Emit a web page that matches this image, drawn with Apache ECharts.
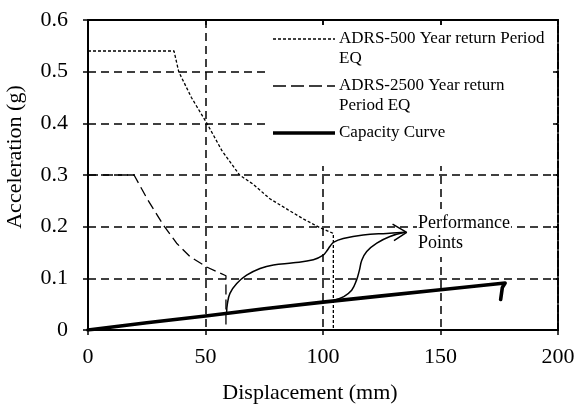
<!DOCTYPE html>
<html><head><meta charset="utf-8">
<script src="https://cdn.jsdelivr.net/npm/echarts@6/dist/echarts.min.js"></script>
<style>html,body{margin:0;padding:0;background:#fff}#c{width:576px;height:405px}</style>
</head><body><div id="c"></div>
<script>
// ---- data (x: displacement mm, y: acceleration g) ----
const xTickValues = [0, 50, 100, 150, 200];
const yTickValues = [0, 0.1, 0.2, 0.3, 0.4, 0.5, 0.6];
const xTitle = 'Displacement (mm)';
const yTitle = 'Acceleration (g)';
const seriesNames = ['ADRS-500 Year return Period EQ', 'ADRS-2500 Year return Period EQ', 'Capacity Curve'];
const legendLines = [['ADRS-500 Year return Period', 'EQ'], ['ADRS-2500 Year return', 'Period EQ'], ['Capacity Curve']];
const annotationText = ['Performance', 'Points'];

const adrs500 = [[0, 0.54], [36.6, 0.54], [38.6, 0.5], [44, 0.45], [50.6, 0.4], [57, 0.347], [64.5, 0.3],
  [70, 0.283], [77.4, 0.254], [85, 0.233], [92, 0.214], [98.7, 0.198], [104.4, 0.187], [104.4, 0]];
const adrs2500 = [[0, 0.3], [19.6, 0.3], [25.3, 0.253], [32.1, 0.203], [37.7, 0.168], [43.4, 0.142],
  [50.5, 0.122], [54.8, 0.113], [58.7, 0.105], [58.7, 0]];
const capacity = [[0, 0], [25, 0.014], [50, 0.027], [75, 0.041], [100, 0.054], [125, 0.066], [150, 0.078],
  [177.5, 0.091], [176.3, 0.082], [175.6, 0.059]];
const perfPath1 = [[59, 0.035], [59.3, 0.05], [60.4, 0.071], [63.3, 0.09], [67.5, 0.106], [73.2, 0.119], [78.9, 0.126],
  [87.4, 0.13], [95.9, 0.136], [100.1, 0.145], [101.6, 0.153], [103, 0.162], [104.6, 0.17], [108.6, 0.177],
  [117.1, 0.184], [127.1, 0.187], [134.9, 0.189]];
const perfPath2 = [[105.1, 0.058], [108.6, 0.064], [112.2, 0.077], [114.3, 0.097], [115.5, 0.116], [116.5, 0.135],
  [118.6, 0.152], [122.9, 0.168], [128.5, 0.181], [134.9, 0.189]];
const arrowHead = [[129.6, 0.205], [135.6, 0.189], [130.2, 0.173]];

// ---- styles ----
const FONT = '"Liberation Serif", "Times New Roman", serif';
const style500 = { color: '#000', width: 1.3, type: [3, 2] };
const style2500 = { color: '#000', width: 1.3, type: [10, 5] };
const styleCap = { color: '#000', width: 3.6, type: 'solid', cap: 'round', join: 'round' };
const stylePerf = { color: '#000', width: 1.5, type: 'solid' };
const gridDash = { color: '#000', width: 1.5, type: [8, 5] };

const chart = echarts.init(document.getElementById('c'), null, { renderer: 'canvas' });
const fmtY = v => (v === 0 ? '0' : v.toFixed(1));

function line(name, data, ls, smooth) {
  return { name, type: 'line', data, showSymbol: false, symbol: 'none', smooth: smooth || false,
    lineStyle: ls, itemStyle: { color: '#000' }, animation: false, z: 3, xAxisIndex: 0, yAxisIndex: 0 };
}

// legend built from text/lines
const legendX = 273, legendW = 62, textX = 339;
const legendRows = [39, 86, 133];
const legendStyles = [
  { lineWidth: 1.3, lineDash: [3, 2] },
  { lineWidth: 1.3, lineDash: [13, 5] },
  { lineWidth: 3.6, lineDash: null }
];
const graphics = [{ type: 'rect', shape: { x: 265, y: 25, width: 291, height: 141 }, style: { fill: '#fff' }, z: 10 }];
legendLines.forEach((lines, i) => {
  graphics.push({ type: 'line', z: 11, shape: { x1: legendX, y1: legendRows[i], x2: legendX + legendW, y2: legendRows[i] },
    style: { stroke: '#000', lineWidth: legendStyles[i].lineWidth, lineDash: legendStyles[i].lineDash } });
  lines.forEach((t, j) => {
    graphics.push({ type: 'text', z: 11, x: textX, y: legendRows[i] + j * 20,
      style: { text: t, fontFamily: FONT, fontSize: 17, fill: '#000', align: 'left', verticalAlign: 'middle' } });
  });
});
graphics.push({ type: 'text', z: 11, x: 417, y: 233,
  style: { text: annotationText.join('\n'), fontFamily: FONT, fontSize: 18, lineHeight: 20, fill: '#000',
    align: 'left', verticalAlign: 'middle', backgroundColor: '#fff', padding: [3, 1, 5, 1] } });

const xMin = xTickValues[0], xMax = xTickValues[xTickValues.length - 1], xInt = xTickValues[1] - xTickValues[0];
const yMin = yTickValues[0], yMax = yTickValues[yTickValues.length - 1], yInt = 0.1;

chart.setOption({
  backgroundColor: '#fff',
  animation: false,
  grid: { left: 88, right: 18, top: 20, bottom: 75, containLabel: false, outerBoundsMode: 'none' },
  xAxis: [
    { type: 'value', min: xMin, max: xMax, interval: xInt, position: 'bottom',
      axisLine: { show: true, onZero: false, lineStyle: { color: '#000', width: 2 } },
      axisTick: { show: true, inside: false, length: 5, lineStyle: { color: '#000', width: 1.5 } },
      axisLabel: { color: '#000', fontFamily: FONT, fontSize: 22, margin: 16 },
      splitLine: { show: true, lineStyle: gridDash },
      name: xTitle, nameLocation: 'middle', nameGap: 52,
      nameTextStyle: { color: '#000', fontFamily: FONT, fontSize: 22, padding: [0, 26, 0, 0] } },
    { type: 'value', min: xMin, max: xMax, interval: xInt, position: 'top', z: 20,
      axisLine: { show: true, onZero: false, lineStyle: { color: '#000', width: 2.2, type: 'solid' } },
      axisTick: { show: true, inside: true, length: 5, lineStyle: { color: '#000', width: 1.5 } },
      axisLabel: { show: false }, splitLine: { show: false } }
  ],
  yAxis: [
    { type: 'value', min: yMin, max: yMax, interval: yInt, position: 'left',
      axisLine: { show: true, onZero: false, lineStyle: { color: '#000', width: 2 } },
      axisTick: { show: true, inside: false, length: 5, lineStyle: { color: '#000', width: 1.5 } },
      axisLabel: { color: '#000', fontFamily: FONT, fontSize: 22, margin: 20, formatter: fmtY },
      splitLine: { show: true, lineStyle: gridDash },
      name: yTitle, nameLocation: 'middle', nameGap: 62, nameRotate: 90,
      nameTextStyle: { color: '#000', fontFamily: FONT, fontSize: 22, padding: [0, 0, 0, 36] } },
    { type: 'value', min: yMin, max: yMax, interval: yInt, position: 'right', z: 20,
      axisLine: { show: true, onZero: false, lineStyle: { color: '#000', width: 2, type: [7, 2] } },
      axisTick: { show: true, inside: true, length: 5, lineStyle: { color: '#000', width: 1.5 } },
      axisLabel: { show: false }, splitLine: { show: false } }
  ],
  graphic: graphics,
  series: [
    line(seriesNames[0], adrs500, style500, false),
    line(seriesNames[1], adrs2500, style2500, false),
    line('Performance path 1', perfPath1, stylePerf, 0.4),
    line('Performance path 2', perfPath2, stylePerf, 0.4),
    line('Performance arrow', arrowHead, stylePerf, false),
    line(seriesNames[2], capacity, styleCap, false)
  ]
});
</script>
</body></html>
